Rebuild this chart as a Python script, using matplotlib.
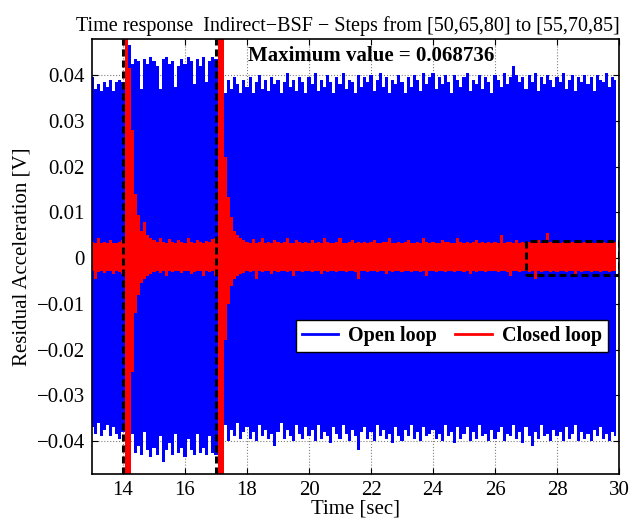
"""
Time response of the residual acceleration, open vs closed loop
"""
import numpy as np
from matplotlib import pyplot as plt
from matplotlib.lines import Line2D


# %%
# =========================== DATA =====================================

T_START = 13.0
T_STEP = 0.1

# open loop, upper and lower peaks every 0.1 s (13.0 ... 29.9)
open_upper = [
    0.0395, 0.0370, 0.0380, 0.0365, 0.0385, 0.0375, 0.0390, 0.0365, 0.0385, 0.0390,
    0.0385, 0.0455, 0.0465, 0.0425, 0.0435, 0.0430, 0.0370, 0.0435, 0.0425, 0.0440,
    0.0430, 0.0420, 0.0370, 0.0435, 0.0440, 0.0425, 0.0430, 0.0375, 0.0420, 0.0435,
    0.0425, 0.0440, 0.0430, 0.0380, 0.0435, 0.0420, 0.0440, 0.0385, 0.0430, 0.0440,
    0.0435, 0.0385, 0.0395, 0.0360, 0.0390, 0.0370, 0.0395, 0.0380, 0.0360, 0.0390,
    0.0375, 0.0395, 0.0360, 0.0385, 0.0400, 0.0370, 0.0390, 0.0365, 0.0395, 0.0380,
    0.0390, 0.0360, 0.0385, 0.0405, 0.0375, 0.0390, 0.0365, 0.0395, 0.0385, 0.0360,
    0.0395, 0.0380, 0.0405, 0.0365, 0.0390, 0.0375, 0.0400, 0.0385, 0.0360, 0.0395,
    0.0380, 0.0405, 0.0370, 0.0390, 0.0385, 0.0360, 0.0400, 0.0375, 0.0395, 0.0385,
    0.0400, 0.0365, 0.0390, 0.0405, 0.0375, 0.0395, 0.0360, 0.0390, 0.0380, 0.0400,
    0.0385, 0.0360, 0.0395, 0.0375, 0.0400, 0.0390, 0.0365, 0.0405, 0.0380, 0.0395,
    0.0405, 0.0370, 0.0395, 0.0380, 0.0400, 0.0385, 0.0360, 0.0400, 0.0390, 0.0375,
    0.0395, 0.0405, 0.0365, 0.0390, 0.0380, 0.0400, 0.0370, 0.0395, 0.0385, 0.0360,
    0.0400, 0.0390, 0.0375, 0.0405, 0.0380, 0.0395, 0.0420, 0.0400, 0.0385, 0.0395,
    0.0370, 0.0400, 0.0385, 0.0405, 0.0365, 0.0395, 0.0380, 0.0400, 0.0390, 0.0375,
    0.0395, 0.0385, 0.0405, 0.0370, 0.0390, 0.0400, 0.0365, 0.0395, 0.0385, 0.0400,
    0.0380, 0.0395, 0.0365, 0.0400, 0.0390, 0.0385, 0.0405, 0.0375, 0.0395, 0.0390,
]
open_lower = [
    -0.0370, -0.0385, -0.0360, -0.0390, -0.0375, -0.0365, -0.0390, -0.0370, -0.0385, -0.0395,
    -0.0380, -0.0425, -0.0440, -0.0385, -0.0425, -0.0410, -0.0430, -0.0380, -0.0420, -0.0435,
    -0.0415, -0.0430, -0.0390, -0.0445, -0.0420, -0.0405, -0.0430, -0.0385, -0.0425, -0.0415,
    -0.0435, -0.0395, -0.0420, -0.0430, -0.0385, -0.0425, -0.0415, -0.0430, -0.0390, -0.0425,
    -0.0430, -0.0380, -0.0395, -0.0365, -0.0400, -0.0375, -0.0390, -0.0360, -0.0395, -0.0380,
    -0.0370, -0.0395, -0.0380, -0.0400, -0.0365, -0.0390, -0.0375, -0.0395, -0.0385, -0.0410,
    -0.0380, -0.0360, -0.0395, -0.0375, -0.0390, -0.0400, -0.0365, -0.0385, -0.0395, -0.0370,
    -0.0390, -0.0375, -0.0400, -0.0365, -0.0395, -0.0380, -0.0390, -0.0405, -0.0370, -0.0385,
    -0.0395, -0.0365, -0.0385, -0.0400, -0.0375, -0.0390, -0.0420, -0.0380, -0.0370, -0.0395,
    -0.0380, -0.0400, -0.0365, -0.0390, -0.0375, -0.0395, -0.0385, -0.0405, -0.0370, -0.0390,
    -0.0400, -0.0375, -0.0390, -0.0365, -0.0395, -0.0380, -0.0400, -0.0370, -0.0390, -0.0385,
    -0.0375, -0.0395, -0.0385, -0.0400, -0.0365, -0.0390, -0.0380, -0.0405, -0.0370, -0.0395,
    -0.0385, -0.0370, -0.0400, -0.0380, -0.0395, -0.0365, -0.0390, -0.0385, -0.0400, -0.0375,
    -0.0395, -0.0380, -0.0370, -0.0400, -0.0385, -0.0390, -0.0365, -0.0395, -0.0380, -0.0405,
    -0.0370, -0.0390, -0.0410, -0.0380, -0.0395, -0.0365, -0.0390, -0.0385, -0.0400, -0.0375,
    -0.0390, -0.0380, -0.0400, -0.0370, -0.0395, -0.0385, -0.0365, -0.0400, -0.0380, -0.0395,
    -0.0385, -0.0400, -0.0375, -0.0390, -0.0370, -0.0395, -0.0385, -0.0400, -0.0380, -0.0390,
]

# closed loop, same time grid
closed_upper = [
    0.0035, 0.0032, 0.0045, 0.0033, 0.0035, 0.0032, 0.0040, 0.0034, 0.0033, 0.0036,
    0.0040, 0.0687, 0.0415, 0.0280, 0.0140, 0.0095, 0.0060, 0.0080, 0.0050, 0.0045,
    0.0040, 0.0035, 0.0045, 0.0036, 0.0033, 0.0042, 0.0035, 0.0034, 0.0040, 0.0036,
    0.0034, 0.0045, 0.0035, 0.0033, 0.0040, 0.0036, 0.0034, 0.0038, 0.0035, 0.0042,
    0.0045, 0.0650, 0.0500, 0.0220, 0.0133, 0.0090, 0.0060, 0.0050, 0.0045, 0.0040,
    0.0036, 0.0033, 0.0042, 0.0034, 0.0035, 0.0045, 0.0033, 0.0036, 0.0034, 0.0040,
    0.0035, 0.0033, 0.0036, 0.0045, 0.0034, 0.0033, 0.0040, 0.0035, 0.0034, 0.0036,
    0.0033, 0.0040, 0.0034, 0.0036, 0.0033, 0.0045, 0.0035, 0.0034, 0.0033, 0.0036,
    0.0045, 0.0034, 0.0033, 0.0036, 0.0040, 0.0033, 0.0035, 0.0034, 0.0036, 0.0033,
    0.0035, 0.0040, 0.0034, 0.0033, 0.0036, 0.0035, 0.0045, 0.0033, 0.0034, 0.0036,
    0.0033, 0.0035, 0.0040, 0.0034, 0.0033, 0.0036, 0.0034, 0.0045, 0.0035, 0.0033,
    0.0036, 0.0034, 0.0033, 0.0040, 0.0035, 0.0036, 0.0033, 0.0034, 0.0045, 0.0035,
    0.0034, 0.0036, 0.0033, 0.0035, 0.0040, 0.0034, 0.0036, 0.0033, 0.0035, 0.0034,
    0.0036, 0.0033, 0.0050, 0.0034, 0.0035, 0.0036, 0.0033, 0.0040, 0.0034, 0.0036,
    0.0033, 0.0035, 0.0034, 0.0036, 0.0040, 0.0033, 0.0034, 0.0055, 0.0036, 0.0033,
    0.0035, 0.0034, 0.0036, 0.0040, 0.0033, 0.0035, 0.0034, 0.0036, 0.0033, 0.0035,
    0.0034, 0.0036, 0.0033, 0.0035, 0.0034, 0.0036, 0.0033, 0.0035, 0.0034, 0.0036,
]
closed_lower = [
    -0.0028, -0.0045, -0.0030, -0.0028, -0.0032, -0.0029, -0.0028, -0.0035, -0.0028, -0.0030,
    -0.0035, -0.0620, -0.0500, -0.0250, -0.0120, -0.0080, -0.0055, -0.0045, -0.0040, -0.0035,
    -0.0030, -0.0028, -0.0033, -0.0029, -0.0040, -0.0028, -0.0030, -0.0029, -0.0028, -0.0032,
    -0.0029, -0.0028, -0.0035, -0.0030, -0.0028, -0.0029, -0.0040, -0.0028, -0.0030, -0.0029,
    -0.0040, -0.0600, -0.0480, -0.0180, -0.0100, -0.0060, -0.0045, -0.0040, -0.0035, -0.0032,
    -0.0028, -0.0030, -0.0029, -0.0045, -0.0028, -0.0030, -0.0029, -0.0028, -0.0035, -0.0029,
    -0.0030, -0.0028, -0.0029, -0.0030, -0.0028, -0.0040, -0.0029, -0.0028, -0.0030, -0.0029,
    -0.0028, -0.0030, -0.0029, -0.0028, -0.0035, -0.0029, -0.0030, -0.0028, -0.0029, -0.0030,
    -0.0029, -0.0028, -0.0030, -0.0029, -0.0028, -0.0030, -0.0045, -0.0028, -0.0029, -0.0030,
    -0.0028, -0.0029, -0.0030, -0.0028, -0.0029, -0.0035, -0.0028, -0.0030, -0.0029, -0.0028,
    -0.0030, -0.0029, -0.0028, -0.0030, -0.0029, -0.0028, -0.0030, -0.0029, -0.0040, -0.0028,
    -0.0029, -0.0030, -0.0028, -0.0029, -0.0030, -0.0028, -0.0029, -0.0030, -0.0028, -0.0029,
    -0.0030, -0.0028, -0.0035, -0.0029, -0.0030, -0.0028, -0.0029, -0.0030, -0.0028, -0.0029,
    -0.0028, -0.0030, -0.0029, -0.0028, -0.0030, -0.0040, -0.0028, -0.0029, -0.0030, -0.0028,
    -0.0029, -0.0030, -0.0028, -0.0045, -0.0029, -0.0030, -0.0028, -0.0029, -0.0030, -0.0028,
    -0.0030, -0.0029, -0.0028, -0.0030, -0.0029, -0.0028, -0.0035, -0.0029, -0.0030, -0.0028,
    -0.0029, -0.0030, -0.0028, -0.0029, -0.0030, -0.0028, -0.0029, -0.0030, -0.0028, -0.0029,
]

STEP_TIMES = [14, 17]          # dashed markers at the set-point changes
ZOOM_BOX = [27.0, 30.0, -0.0037, 0.0037]  # t0, t1, y0, y1
MAX_VALUE = 0.068736

TITLE = 'Time response  Indirect\u2212BSF \u2212 Steps from [50,65,80] to [55,70,85]'
XTICKS = [14, 16, 18, 20, 22, 24, 26, 28, 30]
YTICKS = [-0.04, -0.03, -0.02, -0.01, 0, 0.01, 0.02, 0.03, 0.04]


# %%
# ========================== PLOTTING ==================================

plt.rcParams['font.family'] = ['Liberation Serif', 'DejaVu Serif']

time = T_START + T_STEP * np.arange(len(open_upper))

fig = plt.figure(figsize=(6.37, 5.25), dpi=100)
ax = fig.add_axes([92 / 637, 51 / 525, 527 / 637, 435 / 525])

ax.fill_between(time, open_lower, open_upper, step='mid',
                color='b', lw=0, zorder=2)
ax.fill_between(time, closed_lower, closed_upper, step='mid',
                color='r', lw=0, zorder=3)

dash = (0, (2.3, 1.3))
for st in STEP_TIMES:
    ax.axvline(st, color='k', lw=2.2, ls=dash, zorder=4)
t0, t1, y0, y1 = ZOOM_BOX
ax.plot([t0, t1, t1, t0, t0], [y0, y0, y1, y1, y0], color='k', lw=2.2,
        ls=dash, zorder=4)

ax.text(22.0, 0.0442, 'Maximum value = %g' % MAX_VALUE, ha='center',
        va='center', fontsize=15, weight='bold', zorder=5)

ax.set_xlim(13, 30)
ax.set_ylim(-0.0472, 0.0479)
ax.set_xticks(XTICKS)
ax.set_yticks(YTICKS)
ax.set_yticklabels([('%g' % v).replace('-', '\u2212') for v in YTICKS])
ax.tick_params(direction='in', length=4, width=0.8, labelsize=15, pad=5,
               top=True, right=True)
ax.set_axisbelow(True)
ax.grid(True, ls=':', color='0.5', lw=0.8, zorder=0)
for sp in ax.spines.values():
    sp.set_linewidth(1.2)
    sp.set_zorder(6)

ax.set_xlabel('Time [sec]', fontsize=15, labelpad=0)
ax.set_ylabel('Residual Acceleration [V]', fontsize=15, labelpad=4)
ax.set_title(TITLE, fontsize=14.5, pad=6, x=0.485)

handles = [Line2D([], [], color='b', lw=2),
           Line2D([], [], color='r', lw=2)]
leg = ax.legend(handles, ['Open loop', 'Closed loop'], ncol=2,
                loc='lower right', bbox_to_anchor=(0.979, 0.28),
                borderaxespad=0, fancybox=False, framealpha=1,
                edgecolor='k', prop={'weight': 'bold', 'size': 14.5},
                handlelength=1.8, columnspacing=0.9, handletextpad=0.5,
                borderpad=0.3)
leg.get_frame().set_linewidth(1.0)
leg.set_zorder(7)

plt.savefig('out.png', dpi=100)
